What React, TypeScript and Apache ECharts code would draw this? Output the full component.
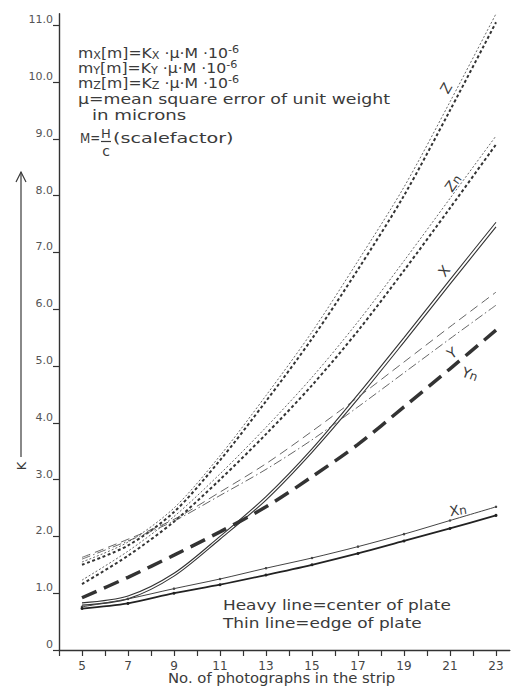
import React, { useEffect, useRef } from 'react';
import * as echarts from 'echarts';

// No. of photographs in the strip
const photos = [5, 7, 9, 11, 13, 15, 17, 19, 21, 23];
// K values
const zEdge = [1.55, 1.9, 2.5, 3.42, 4.48, 5.6, 6.85, 8.15, 9.65, 11.2];
const zCenter = [1.5, 1.84, 2.43, 3.34, 4.38, 5.48, 6.7, 8.0, 9.5, 11.05];
const znEdge = [1.23, 1.74, 2.35, 3.1, 3.92, 4.8, 5.78, 6.85, 7.95, 9.05];
const znCenter = [1.16, 1.66, 2.26, 3.0, 3.8, 4.66, 5.62, 6.68, 7.78, 8.9];
const xEdge = [0.83, 0.95, 1.35, 2.0, 2.7, 3.54, 4.5, 5.5, 6.52, 7.53];
const xCenter = [0.79, 0.9, 1.3, 1.95, 2.64, 3.48, 4.42, 5.42, 6.44, 7.45];
const yEdge = [1.63, 1.95, 2.3, 2.78, 3.28, 3.85, 4.45, 5.07, 5.69, 6.3];
const yEdge2 = [1.6, 1.92, 2.27, 2.72, 3.18, 3.7, 4.28, 4.88, 5.48, 6.07];
const ynCenter = [0.92, 1.28, 1.67, 2.08, 2.52, 3.05, 3.62, 4.28, 4.95, 5.63];
const xnEdge = [0.76, 0.9, 1.08, 1.25, 1.44, 1.62, 1.82, 2.04, 2.28, 2.52];
const xnCenter = [0.73, 0.82, 1.0, 1.15, 1.32, 1.5, 1.7, 1.92, 2.14, 2.37];

const xTicks = [4, 5, 6, 7, 8, 9, 10, 11, 12, 13, 14, 15, 16, 17, 18, 19, 20, 21, 22, 23];
const xLabels = [5, 7, 9, 11, 13, 15, 17, 19, 21, 23];
const yTicks = [0, 1, 2, 3, 4, 5, 6, 7, 8, 9, 10, 11];

const FONT = 'DejaVu Sans';
const INK = '#3a3a3a';

function pts(vals: number[]) {
  return photos.map((x, i) => [x, vals[i]]);
}

function line(name: string, vals: number[], width: number, type: any, color: string, symbol = false, symbolSize = 3) {
  return {
    name,
    type: 'line',
    data: pts(vals),
    smooth: 0.3,
    showSymbol: symbol,
    symbol: 'circle',
    symbolSize,
    silent: true,
    itemStyle: { color },
    lineStyle: { width, type, color },
    emphasis: { disabled: true },
  };
}

function txt(text: string, x: number, y: number, opts: any = {}) {
  return {
    type: 'text',
    x,
    y,
    rotation: opts.rotation || 0,
    scaleX: opts.scaleX || 1,
    silent: true,
    style: {
      text,
      x: 0,
      y: 0,
      fill: INK,
      fontFamily: FONT,
      fontSize: opts.fontSize || 14,
      align: opts.align || 'left',
      verticalAlign: 'middle',
      lineHeight: opts.lineHeight,
      rich: opts.rich,
    },
  };
}

const rich = {
  s: { fontSize: 10, fontFamily: FONT, fill: INK, color: INK, verticalAlign: 'bottom', lineHeight: 10 },
  p: { fontSize: 10, fontFamily: FONT, fill: INK, color: INK, verticalAlign: 'top', lineHeight: 10 },
};
const richLbl = {
  s: { fontSize: 12, fontFamily: FONT, fill: INK, color: INK, verticalAlign: 'bottom', lineHeight: 12 },
};

export default function App() {
  const ref = useRef<HTMLDivElement>(null);
  useEffect(() => {
    const chart = echarts.init(ref.current!, null, { renderer: 'svg' });
    const option: any = {
      animation: false,
      backgroundColor: '#fff',
      grid: { left: 59, right: 10.2, top: 13.8, bottom: 37, containLabel: false, outerBoundsMode: 'none' },
      xAxis: {
        type: 'value',
        min: 4,
        max: 23.6,
        interval: 1,
        axisLine: { show: true, onZero: false, lineStyle: { color: '#333', width: 1.4 } },
        axisTick: { show: true, inside: false, length: 6, customValues: xTicks, lineStyle: { color: '#333', width: 1.2 } },
        axisLabel: { show: true, customValues: xLabels, color: '#444', fontSize: 12, fontFamily: FONT, margin: 10 },
        splitLine: { show: false },
      },
      yAxis: {
        type: 'value',
        min: 0,
        max: 11.2,
        interval: 1,
        axisLine: { show: true, onZero: false, lineStyle: { color: '#333', width: 1.4 } },
        axisTick: { show: true, inside: false, length: 6, customValues: yTicks, lineStyle: { color: '#333', width: 1.2 } },
        axisLabel: {
          show: true,
          customValues: yTicks,
          color: '#555',
          fontSize: 11,
          fontFamily: FONT,
          margin: 6,
          verticalAlign: 'bottom',
          formatter: (v: number) => (v === 0 ? '0' : v.toFixed(1)),
        },
        splitLine: { show: false },
      },
      series: [
        line('Z edge', zEdge, 0.9, [2, 2], '#555'),
        line('Z center', zCenter, 2, [3, 2.5], '#333'),
        line('Zn edge', znEdge, 0.9, [2, 2], '#555'),
        line('Zn center', znCenter, 2, [3, 2.5], '#333'),
        line('X edge', xEdge, 1.1, 'solid', '#333'),
        line('X center', xCenter, 1.1, 'solid', '#333'),
        line('Y edge', yEdge, 0.9, [9, 5], '#555'),
        line('Y edge 2', yEdge2, 0.9, [9, 3, 1.5, 3], '#555'),
        line('Yn center', ynCenter, 3.5, [16, 8], '#333'),
        line('Xn edge', xnEdge, 1, 'solid', '#444', true, 2.5),
        line('Xn center', xnCenter, 1.8, 'solid', '#222', true, 3),
      ],
      graphic: [
        txt('m{s|X}[m]=K{s|X} ·μ·M ·10{p|-6}', 78, 53, { rich, lineHeight: 16, scaleX: 1.12 }),
        txt('m{s|Y}[m]=K{s|Y} ·μ·M ·10{p|-6}', 78, 68, { rich, lineHeight: 16, scaleX: 1.12 }),
        txt('m{s|Z}[m]=K{s|Z} ·μ·M ·10{p|-6}', 78, 83, { rich, lineHeight: 16, scaleX: 1.12 }),
        txt('μ=mean square error of unit weight', 78, 99, { scaleX: 1.24 }),
        txt('in microns', 92, 115, { scaleX: 1.3 }),
        txt('M=', 80, 138, { fontSize: 14, scaleX: 0.85 }),
        txt('H', 106, 133, { align: 'center', fontSize: 13 }),
        { type: 'line', silent: true, shape: { x1: 101, y1: 141.5, x2: 111, y2: 141.5 }, style: { stroke: INK, lineWidth: 1.2 } },
        txt('c', 106, 151, { align: 'center' }),
        txt('(scalefactor)', 113, 138, { scaleX: 1.37 }),
        // curve labels
        txt('Z', 446, 88, { align: 'center', rotation: 1.05 }),
        txt('Z{s|n}', 453, 183, { align: 'center', rotation: 0.95, rich: richLbl }),
        txt('X', 444, 271, { align: 'center', rotation: 0.9 }),
        txt('Y', 452, 353, { align: 'center', rotation: 0.6 }),
        txt('Y{s|n}', 470, 374, { align: 'center', rotation: -0.35, rich: richLbl }),
        txt('X{s|n}', 458, 510, { align: 'center', rotation: 0.15, rich: richLbl }),
        // legend notes
        txt('Heavy line=center of plate', 223, 605, { scaleX: 1.21 }),
        txt('Thin line=edge of plate', 223, 623, { scaleX: 1.21 }),
        // x axis title
        txt('No. of photographs in the strip', 168, 678, { scaleX: 1.06 }),
        // K arrow
        { type: 'line', silent: true, shape: { x1: 21, y1: 172, x2: 21, y2: 457 }, style: { stroke: INK, lineWidth: 1.2 } },
        { type: 'polyline', silent: true, shape: { points: [[16, 182], [21, 172], [26, 182]] }, style: { stroke: INK, lineWidth: 1.2, fill: 'none' } },
        txt('K', 21, 466, { align: 'center', rotation: Math.PI / 2, fontSize: 13 }),
      ],
    };
    chart.setOption(option);
    return () => chart.dispose();
  }, []);
  return <div ref={ref} style={{ position: 'fixed', left: 0, top: 0, width: 520, height: 687, background: '#fff' }} />;
}
